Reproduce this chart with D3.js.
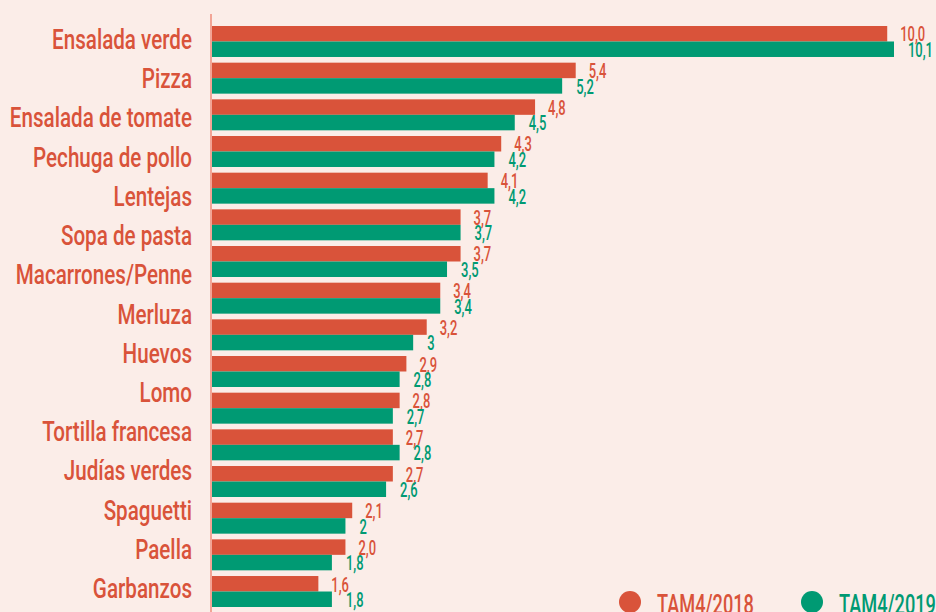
<!DOCTYPE html>
<html><head><meta charset="utf-8">
<script src="https://cdn.jsdelivr.net/npm/d3@7"></script>
<style>html,body{margin:0;padding:0;background:#fbede8;}svg{display:block;}</style>
</head><body>
<script>
const labels = ["Ensalada verde","Pizza","Ensalada de tomate","Pechuga de pollo","Lentejas","Sopa de pasta","Macarrones/Penne","Merluza","Huevos","Lomo","Tortilla francesa","Judías verdes","Spaguetti","Paella","Garbanzos"];
const values2018 = [10.0,5.4,4.8,4.3,4.1,3.7,3.7,3.4,3.2,2.9,2.8,2.7,2.7,2.1,2.0,1.6];
const values2019 = [10.1,5.2,4.5,4.2,4.2,3.7,3.5,3.4,3.0,2.8,2.7,2.8,2.6,2.0,1.8,1.8];
const text2018 = ["10,0","5,4","4,8","4,3","4,1","3,7","3,7","3,4","3,2","2,9","2,8","2,7","2,7","2,1","2,0","1,6"];
const text2019 = ["10,1","5,2","4,5","4,2","4,2","3,7","3,5","3,4","3","2,8","2,7","2,8","2,6","2","1,8","1,8"];
const seriesNames = ["TAM4/2018","TAM4/2019"];

const W = 936, H = 612;
const RED = "#d9533a", GREEN = "#009a73", BG = "#fbede8", AXIS = "#f2a596";
const FONT = "Roboto, 'Noto Sans', sans-serif";
const WEIGHT = 500;

const svg = d3.select("body").append("svg").attr("width", W).attr("height", H);
svg.append("rect").attr("width", W).attr("height", H).attr("fill", BG);

const x = d3.scaleLinear().domain([0, 10.1]).range([210, 894]);
const idx = d3.range(values2018.length);
const y = d3.scaleBand().domain(idx).range([26, 607]).paddingInner(0.155).paddingOuter(0);
const yl = d3.scalePoint().domain(labels).range([41, 590]);

// condensing factors measured from reference text widths
function measure(txt, size) {
  const p = svg.append("text").attr("font-family", FONT).attr("font-weight", WEIGHT).attr("font-size", size).text(txt);
  const w = p.node().getComputedTextLength(); p.remove(); return w;
}
const sxCat = 140 / measure("Ensalada verde", 27);
const sxNum = 25 / measure("10,0", 20);
const sxLeg = 97 / measure("TAM4/2018", 27);

const bw = y.bandwidth() / 2;
const bars = svg.append("g");
bars.selectAll("rect.r").data(idx).join("rect")
  .attr("x", x(0)).attr("y", d => y(d)).attr("width", d => x(values2018[d]) - x(0)).attr("height", bw).attr("fill", RED);
bars.selectAll("rect.g").data(idx).join("rect")
  .attr("x", x(0)).attr("y", d => y(d) + bw).attr("width", d => x(values2019[d]) - x(0)).attr("height", bw).attr("fill", GREEN);

// axis line
svg.append("line").attr("x1", 211).attr("x2", 211).attr("y1", 14).attr("y2", H).attr("stroke", AXIS).attr("stroke-width", 2);

// value labels
const vl = svg.append("g").attr("font-family", FONT).attr("font-weight", WEIGHT).attr("font-size", 20);
vl.selectAll("text.r").data(idx).join("text")
  .attr("transform", d => `translate(${x(values2018[d]) + 13},${y(d) + bw}) scale(${sxNum},1)`)
  .attr("fill", RED).text(d => text2018[d]);
vl.selectAll("text.g").data(idx).join("text")
  .attr("transform", d => `translate(${x(values2019[d]) + 14},${y(d) + 2 * bw}) scale(${sxNum},1)`)
  .attr("fill", GREEN).text(d => text2019[d]);

// category labels
svg.append("g").attr("font-family", FONT).attr("font-weight", WEIGHT).attr("font-size", 27).attr("fill", RED)
  .selectAll("text").data(labels).join("text")
  .attr("transform", d => `translate(192,${yl(d) + 8}) scale(${sxCat},1)`)
  .attr("text-anchor", "end").text(d => d);

// legend
const lg = svg.append("g").attr("font-family", FONT).attr("font-weight", WEIGHT).attr("font-size", 27);
const lx = [630, 812], cols = [RED, GREEN];
seriesNames.forEach((n, i) => {
  lg.append("circle").attr("cx", lx[i]).attr("cy", 602).attr("r", 11).attr("fill", cols[i]);
  lg.append("text").attr("transform", `translate(${lx[i] + 27},614) scale(${sxLeg},1)`).attr("fill", cols[i]).text(n);
});
</script>
</body></html>
